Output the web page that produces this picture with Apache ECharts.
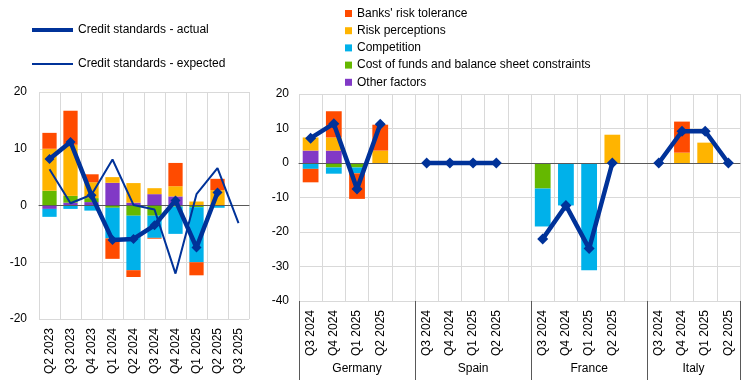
<!DOCTYPE html>
<html>
<head>
<meta charset="utf-8">
<script src="https://cdn.jsdelivr.net/npm/echarts@6/dist/echarts.min.js"></script>
<style>
html,body{margin:0;padding:0;background:#fff;}
#c{width:745px;height:384px;}
</style>
</head>
<body>
<div id="c"></div>
<script>
// ---------- data ----------
var leftCats = ['Q2 2023','Q3 2023','Q4 2023','Q1 2024','Q2 2024','Q3 2024','Q4 2024','Q1 2025','Q2 2025','Q3 2025'];
var leftOther    = [-0.6, 0.5, 0.6, 4.0, 0.5, 2.0, 1.6, 0, 0, null];
var leftCost     = [2.6, 1.2, 0.7, -0.4, -1.8, -1.8, -0.2, -0.3, 0, null];
var leftComp     = [-1.4, -0.6, -0.9, -5.4, -9.6, -3.9, -4.8, -9.7, -0.4, null];
var leftRiskPerc = [7.4, 9.0, 2.8, 1.0, 3.45, 1.05, 1.8, 0.7, 2.7, null];
var leftRiskTol  = [2.8, 6.0, 1.4, -3.6, -1.2, -0.15, 4.1, -2.3, 2.0, null];
var leftActual   = [8.2, 11.2, 1.8, -6.1, -5.9, -3.5, 0.9, -7.4, 2.3, null];
var leftExpected = [6.4, 0.4, 1.9, 8.1, 0.1, -0.7, -12.0, 2.0, 6.6, -3.1];

var countries = ['Germany', 'Spain', 'France', 'Italy'];
var rightQuarters = ['Q3 2024', 'Q4 2024', 'Q1 2025', 'Q2 2025'];
// values per country, 4 quarters each (Germany, Spain, France, Italy)
var rOther    = [3.6, 3.6, 0, 0,    0, 0, 0, 0,   0, 0, 0, 0,        0, 0, 0, 0];
var rCost     = [0, -1.3, -1.3, 0,  0, 0, 0, 0,   -7.4, 0, 0, 0,     0, 0, 0, 0];
var rComp     = [-1.7, -1.8, -1.7, 0, 0, 0, 0, 0, -11.0, -12.3, -31.1, 0, 0, 0, 0, 0];
var rRiskPerc = [3.8, 3.8, 0, 3.6,  0, 0, 0, 0,   0, 0, 0, 8.2,      0, 3.0, 5.9, 0];
var rRiskTol  = [-3.9, 7.6, -7.4, 7.5, 0, 0, 0, 0, 0, 0, 0, 0,       0, 9.0, 0, 0];
var rActual   = [7.2, 11.4, -7.5, 11.2, 0, 0, 0, 0, -22.0, -12.3, -24.8, 0, 0, 9.2, 9.2, 0];

var leftTicks = [-20, -10, 0, 10, 20];
var rightTicks = [-40, -30, -20, -10, 0, 10, 20];

// ---------- build ----------
function withGaps(arr, fill) {
  var out = [];
  for (var g = 0; g < countries.length; g++) {
    for (var q = 0; q < rightQuarters.length; q++) out.push(arr[g * rightQuarters.length + q]);
    if (g < countries.length - 1) out.push(fill);
  }
  return out;
}
var rightCats = [];
(function(){ var f = []; for (var g = 0; g < countries.length; g++) f = f.concat(rightQuarters); rightCats = withGaps(f, ''); })();
var groupStart = {}; // index of first category of each group
(function(){ var i = 0; for (var g = 0; g < countries.length; g++) { groupStart[i] = g; i += rightQuarters.length + 1; } })();

var C = {
  blue: '#003299', red: '#FF4B00', yellow: '#FFB400', cyan: '#00B1EA', green: '#65B800', purple: '#8139C6'
};
var FONT = 'Liberation Sans, Arial, sans-serif';
var gridColor = '#d9d9d9';
var axisDark = '#595959';
var names = {
  tol: "Banks' risk tolerance", perc: 'Risk perceptions', comp: 'Competition',
  cost: 'Cost of funds and balance sheet constraints', other: 'Other factors',
  act: 'Credit standards - actual', exp: 'Credit standards - expected'
};

function bars(xi, yi, stack, o, c, cp, p, t) {
  var defs = [[names.other, C.purple, o], [names.cost, C.green, c], [names.comp, C.cyan, cp], [names.perc, C.yellow, p], [names.tol, C.red, t]];
  return defs.map(function (d) {
    return {
      type: 'bar', name: d[0], stack: stack, xAxisIndex: xi, yAxisIndex: yi,
      data: d[2], barWidth: '68%', itemStyle: { color: d[1] }, z: 2, silent: true
    };
  });
}

var series = []
  .concat(bars(0, 0, 'L', leftOther, leftCost, leftComp, leftRiskPerc, leftRiskTol))
  .concat(bars(3, 1, 'R', withGaps(rOther, null), withGaps(rCost, null), withGaps(rComp, null), withGaps(rRiskPerc, null), withGaps(rRiskTol, null)));

series.push({
  type: 'line', name: names.exp, xAxisIndex: 0, yAxisIndex: 0, data: leftExpected,
  showSymbol: false, symbol: 'none', lineStyle: { color: C.blue, width: 2 }, itemStyle: { color: C.blue }, z: 5, silent: true
});
series.push({
  type: 'line', name: names.act, xAxisIndex: 0, yAxisIndex: 0, data: leftActual,
  symbol: 'diamond', symbolSize: 10, lineStyle: { color: C.blue, width: 4.5 }, itemStyle: { color: C.blue }, z: 6, silent: true
});
series.push({
  type: 'line', name: names.act, xAxisIndex: 3, yAxisIndex: 1, data: withGaps(rActual, null),
  symbol: 'diamond', symbolSize: 11, connectNulls: false, lineStyle: { color: C.blue, width: 4.5 }, itemStyle: { color: C.blue }, z: 6, silent: true
});

var labelStyle = { color: '#000', fontSize: 12, fontFamily: FONT };

var option = {
  animation: false,
  backgroundColor: '#fff',
  textStyle: { fontFamily: FONT },
  legend: [
    { data: [{ name: names.act, icon: 'rect' }], left: 32, top: 24, padding: 0, itemWidth: 41, itemHeight: 4, itemGap: 0, itemTextGap: 5, textStyle: labelStyle, selectedMode: false },
    { data: [{ name: names.exp, icon: 'rect' }], left: 32, top: 58, padding: 0, itemWidth: 41, itemHeight: 2, itemGap: 0, itemTextGap: 5, textStyle: labelStyle, selectedMode: false },
    { data: [names.tol, names.perc, names.comp, names.cost, names.other].map(function (n) { return { name: n, icon: 'rect' }; }),
      orient: 'vertical', left: 345, top: 7.5, padding: 0, itemWidth: 7, itemHeight: 7, itemGap: 5.2, itemTextGap: 3, textStyle: labelStyle, selectedMode: false }
  ],
  grid: [
    { left: 39, top: 92, width: 210, height: 227, containLabel: false },
    { left: 299, top: 94, width: 441, height: 207, containLabel: false }
  ],
  xAxis: [
    // 0: left, zero line + vertical grid
    { type: 'category', gridIndex: 0, data: leftCats, z: 3,
      axisLine: { onZero: true, lineStyle: { color: axisDark, width: 1 } },
      axisTick: { show: false }, axisLabel: { show: false },
      splitLine: { show: true, interval: 0, lineStyle: { color: gridColor, width: 1 } } },
    // 1: left, bottom labels
    { type: 'category', gridIndex: 0, data: leftCats, position: 'bottom',
      axisLine: { show: false, onZero: false }, axisTick: { show: false },
      axisLabel: Object.assign({ rotate: 90, interval: 0, margin: 9 }, labelStyle),
      splitLine: { show: false } },
    // 2: right, bottom labels
    { type: 'category', gridIndex: 1, data: rightCats, position: 'bottom',
      axisLine: { show: false, onZero: false }, axisTick: { show: false },
      axisLabel: Object.assign({ rotate: 90, interval: 0, margin: 9 }, labelStyle),
      splitLine: { show: false } },
    // 3: right, zero line + vertical grid
    { type: 'category', gridIndex: 1, data: rightCats, z: 3,
      axisLine: { onZero: true, lineStyle: { color: axisDark, width: 1 } },
      axisTick: { show: false }, axisLabel: { show: false },
      splitLine: { show: true, interval: 0, lineStyle: { color: gridColor, width: 1 } } },
    // 4: right, country groups
    { type: 'category', gridIndex: 1, data: rightCats, position: 'bottom',
      axisLine: { show: false, onZero: false },
      axisTick: { show: true, length: 79, lineStyle: { color: axisDark, width: 1 },
        interval: function (idx) { return groupStart[idx] !== undefined; } },
      axisLabel: Object.assign({
        margin: 62,
        interval: function (idx) { return groupStart[idx - 2] !== undefined || idx === rightCats.length - 3; },
        formatter: function (v, idx) {
          if (groupStart[idx - 2] !== undefined) return countries[groupStart[idx - 2]];
          if (idx === rightCats.length - 3) return '{it|' + countries[countries.length - 1] + '}';
          return '';
        },
        rich: { it: { padding: [0, 0, 0, 23], fontSize: 12, fontFamily: FONT, color: '#000' } }
      }, labelStyle),
      splitLine: { show: false } }
  ],
  yAxis: [
    { type: 'value', gridIndex: 0, min: leftTicks[0], max: leftTicks[leftTicks.length - 1], interval: 10,
      axisLine: { show: false }, axisTick: { show: false },
      axisLabel: Object.assign({ margin: 12 }, labelStyle),
      splitLine: { show: true, lineStyle: { color: gridColor, width: 1 } } },
    { type: 'value', gridIndex: 1, min: rightTicks[0], max: rightTicks[rightTicks.length - 1], interval: 10,
      axisLine: { show: false }, axisTick: { show: false },
      axisLabel: Object.assign({ margin: 10 }, labelStyle),
      splitLine: { show: true, lineStyle: { color: gridColor, width: 1 } } }
  ],
  series: series
};

var chart = echarts.init(document.getElementById('c'), null, { renderer: 'canvas' });
chart.setOption(option);
</script>
</body>
</html>
